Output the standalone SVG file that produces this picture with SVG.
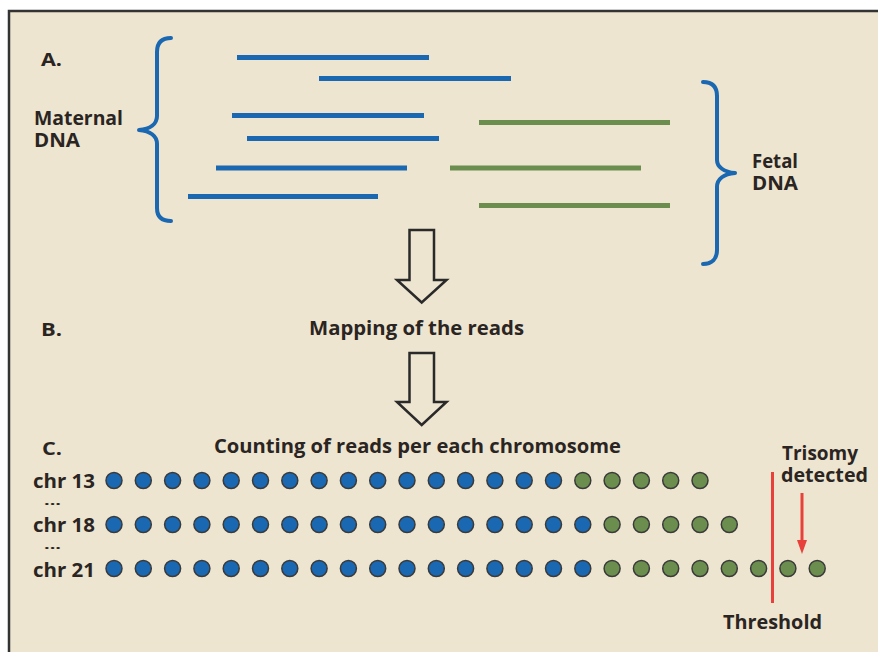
<svg xmlns="http://www.w3.org/2000/svg" width="878" height="652" viewBox="0 0 878 652">
  <style>
    text { font-family: "Open Sans", "Liberation Sans", sans-serif; font-weight: 700; fill: #2a2422; }
    .lbl { font-size: 19px; }
    .sec { font-size: 18px; font-weight: 700; }
    .dots { font-size: 12px; }
    .maternal { stroke: #1a67b2; stroke-width: 5; stroke-linecap: butt; }
    .fetal { stroke: #6b8e4e; stroke-width: 5; stroke-linecap: butt; }
    .brace { fill: none; stroke: #1a67b2; stroke-width: 4; stroke-linecap: round; stroke-linejoin: round; }
    .flow { fill: #ede5cf; stroke: #2a2a2a; stroke-width: 2.5; stroke-linejoin: miter; }
    .b { fill: #1a67b2; stroke: #3a3a3a; stroke-width: 1.5; }
    .g { fill: #6b8e4e; stroke: #3a3a3a; stroke-width: 1.5; }
    .red { stroke: #e8403a; stroke-width: 3; }
  </style>
  <defs>
    <circle id="db" r="8" class="b"/>
    <circle id="dg" r="8" class="g"/>
  </defs>

  <!-- page and panel frame -->
  <rect x="0" y="0" width="878" height="652" fill="#ffffff"/>
  <rect x="9" y="11" width="880" height="660" fill="#ede5cf" stroke="#333333" stroke-width="2.5"/>

  <!-- A. sequencing reads -->
  <g id="panel-a">
    <text class="sec" x="41" y="66" textLength="21" lengthAdjust="spacingAndGlyphs">A.</text>
    <g id="maternal-reads">
      <line class="maternal" x1="237" y1="57.5" x2="429" y2="57.5"/>
      <line class="maternal" x1="319" y1="78.5" x2="511" y2="78.5"/>
      <line class="maternal" x1="232" y1="115.5" x2="424" y2="115.5"/>
      <line class="maternal" x1="247" y1="138.5" x2="439" y2="138.5"/>
      <line class="maternal" x1="216" y1="168" x2="407" y2="168"/>
      <line class="maternal" x1="188" y1="196.5" x2="378" y2="196.5"/>
    </g>
    <g id="fetal-reads">
      <line class="fetal" x1="479" y1="122.5" x2="670" y2="122.5"/>
      <line class="fetal" x1="450" y1="168" x2="641" y2="168"/>
      <line class="fetal" x1="479" y1="205.5" x2="670" y2="205.5"/>
    </g>
    <g id="maternal-label">
      <path class="brace" d="M171,38 C162,38 157,42 157,52 L157,116 C157,124 150,129 139,130 C150,131 157,136 157,144 L157,208 C157,217 162,221 171,221"/>
      <text class="lbl" x="34" y="124.5" textLength="89" lengthAdjust="spacingAndGlyphs">Maternal</text>
      <text class="lbl" x="34" y="147" textLength="46" lengthAdjust="spacingAndGlyphs">DNA</text>
    </g>
    <g id="fetal-label">
      <path class="brace" d="M703,82 C712,82 717,86 717,96 L717,160 C717,167 724,172 735,173 C724,174 717,179 717,187 L717,250 C717,259 712,264 703,264"/>
      <text class="lbl" x="752" y="167.5" textLength="46" lengthAdjust="spacingAndGlyphs">Fetal</text>
      <text class="lbl" x="752" y="189.5" textLength="46" lengthAdjust="spacingAndGlyphs">DNA</text>
    </g>
  </g>

  <!-- flow arrows -->
  <g id="connectors">
    <polygon class="flow" points="409.5,230 434,230 434,280 446.5,280 421.7,302.5 397,280 409.5,280"/>
    <polygon class="flow" points="409.5,353 434,353 434,402 446.5,402 421.7,425 397,402 409.5,402"/>
  </g>

  <!-- B. mapping -->
  <g id="panel-b">
    <text class="sec" x="41" y="336" textLength="21" lengthAdjust="spacingAndGlyphs">B.</text>
    <text class="lbl" x="309" y="335" textLength="215" lengthAdjust="spacingAndGlyphs">Mapping of the reads</text>
  </g>

  <!-- C. counting per chromosome -->
  <g id="panel-c">
    <text class="sec" x="42" y="455" textLength="20" lengthAdjust="spacingAndGlyphs">C.</text>
    <text class="lbl" x="214" y="453" textLength="407" lengthAdjust="spacingAndGlyphs">Counting of reads per each chromosome</text>

    <text class="lbl" x="33" y="487.5" textLength="62" lengthAdjust="spacingAndGlyphs">chr 13</text>
    <text class="dots" x="44" y="505" textLength="17" lengthAdjust="spacingAndGlyphs">...</text>
    <text class="lbl" x="33" y="531.5" textLength="62" lengthAdjust="spacingAndGlyphs">chr 18</text>
    <text class="dots" x="44" y="549" textLength="17" lengthAdjust="spacingAndGlyphs">...</text>
    <text class="lbl" x="33" y="576.5" textLength="62" lengthAdjust="spacingAndGlyphs">chr 21</text>

    <!-- chr 13: 16 maternal + 5 fetal -->
    <g id="row-chr13" transform="translate(114,480.5)">
      <use href="#db" x="0"/><use href="#db" x="29.3"/><use href="#db" x="58.6"/><use href="#db" x="87.9"/>
      <use href="#db" x="117.2"/><use href="#db" x="146.5"/><use href="#db" x="175.8"/><use href="#db" x="205.1"/>
      <use href="#db" x="234.4"/><use href="#db" x="263.7"/><use href="#db" x="293"/><use href="#db" x="322.3"/>
      <use href="#db" x="351.6"/><use href="#db" x="380.9"/><use href="#db" x="410.2"/><use href="#db" x="439.5"/>
      <use href="#dg" x="468.8"/><use href="#dg" x="498.1"/><use href="#dg" x="527.4"/><use href="#dg" x="556.7"/>
      <use href="#dg" x="586"/>
    </g>
    <!-- chr 18: 17 maternal + 5 fetal -->
    <g id="row-chr18" transform="translate(114,524.5)">
      <use href="#db" x="0"/><use href="#db" x="29.3"/><use href="#db" x="58.6"/><use href="#db" x="87.9"/>
      <use href="#db" x="117.2"/><use href="#db" x="146.5"/><use href="#db" x="175.8"/><use href="#db" x="205.1"/>
      <use href="#db" x="234.4"/><use href="#db" x="263.7"/><use href="#db" x="293"/><use href="#db" x="322.3"/>
      <use href="#db" x="351.6"/><use href="#db" x="380.9"/><use href="#db" x="410.2"/><use href="#db" x="439.5"/>
      <use href="#db" x="468.8"/><use href="#dg" x="498.1"/><use href="#dg" x="527.4"/><use href="#dg" x="556.7"/>
      <use href="#dg" x="586"/><use href="#dg" x="615.3"/>
    </g>
    <!-- chr 21: 17 maternal + 8 fetal -->
    <g id="row-chr21" transform="translate(114,568.5)">
      <use href="#db" x="0"/><use href="#db" x="29.3"/><use href="#db" x="58.6"/><use href="#db" x="87.9"/>
      <use href="#db" x="117.2"/><use href="#db" x="146.5"/><use href="#db" x="175.8"/><use href="#db" x="205.1"/>
      <use href="#db" x="234.4"/><use href="#db" x="263.7"/><use href="#db" x="293"/><use href="#db" x="322.3"/>
      <use href="#db" x="351.6"/><use href="#db" x="380.9"/><use href="#db" x="410.2"/><use href="#db" x="439.5"/>
      <use href="#db" x="468.8"/><use href="#dg" x="498.1"/><use href="#dg" x="527.4"/><use href="#dg" x="556.7"/>
      <use href="#dg" x="586"/><use href="#dg" x="615.3"/><use href="#dg" x="644.6"/><use href="#dg" x="673.9"/>
      <use href="#dg" x="703.2"/>
    </g>

    <g id="threshold">
      <line class="red" x1="772.5" y1="472" x2="772.5" y2="603"/>
      <text class="lbl" x="723" y="629" textLength="99" lengthAdjust="spacingAndGlyphs">Threshold</text>
    </g>
    <g id="trisomy">
      <text class="lbl" x="782" y="460" textLength="76" lengthAdjust="spacingAndGlyphs">Trisomy</text>
      <text class="lbl" x="781" y="482" textLength="87" lengthAdjust="spacingAndGlyphs">detected</text>
      <line class="red" stroke-width="2.5" x1="802" y1="493" x2="802" y2="542"/>
      <polygon points="797,540 807,540 802,554" fill="#e8403a"/>
    </g>
  </g>
</svg>
